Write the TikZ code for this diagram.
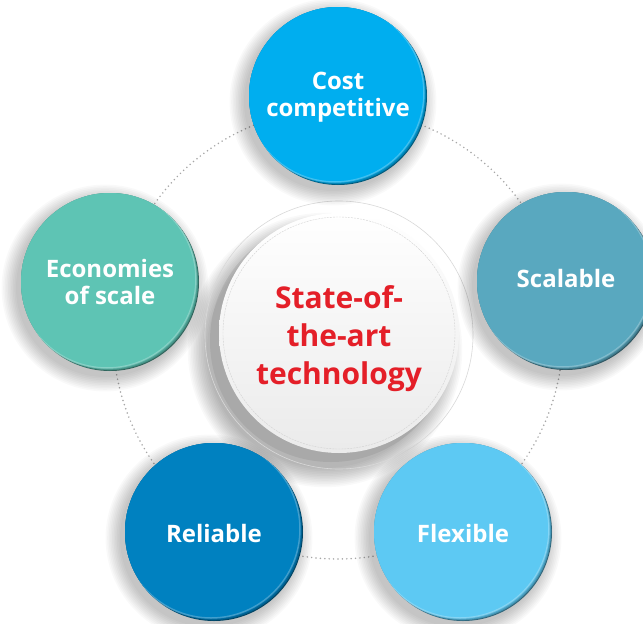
\documentclass[tikz,border=0pt]{standalone}
\usepackage{fontspec}
\setmainfont{Open Sans}
\definecolor{costc}{HTML}{00AEEF}
\definecolor{scalc}{HTML}{59A8BF}
\definecolor{econc}{HTML}{5EC4B4}
\definecolor{relc}{HTML}{0081C0}
\definecolor{flexc}{HTML}{5DC9F3}
\definecolor{redc}{HTML}{E41F28}
\definecolor{dotc}{HTML}{A6A6A6}
\tikzset{
  btxt/.style={text=white, font=\bfseries\fontsize{24}{27}\selectfont, align=center, inner sep=0pt},
  ctxt/.style={text=redc, font=\bfseries\fontsize{30}{38}\selectfont, align=center, inner sep=0pt},
  guide/.style={dotc, line width=1.7pt, line cap=round, dash pattern=on 0pt off 4.4pt},
}
\newcommand\mybubble[6]{%
  \foreach \i in {0,...,9} {\fill[black,opacity=0.022] ({#2-5},{#3+6}) circle[radius={(89+\i*1.6)*1pt}];}
  \fill[#4!50!black] (#2,#3) circle[radius=89pt];
  \begin{scope}
    \clip (#2,#3) circle[radius=89pt];
    \foreach \s in {1,2,3,4} {\fill[#4,opacity=0.4] ({#2-\s*0.7},{#3-\s*0.7}) circle[radius=89pt];}
    \fill[#4] ({#2-3},{#3-3}) circle[radius=89pt];
    \draw[white,opacity=0.25,line width=1.5pt] ({#2-3},{#3-3}) circle[radius=89pt];
  \end{scope}
  \node[btxt] (#1) at (#2,{#3+#6}) {#5};
}
\begin{document}
\begin{tikzpicture}[x=1pt,y=-1pt]
\useasboundingbox (0,0) rectangle (643,624);
\clip (0,0) rectangle (643,624);
\fill[white] (0,0) rectangle (643,624);
\coordinate (O) at (338,334);
\draw[guide] (O) circle[radius=225pt];
% centre disk
\foreach \i in {0,...,12} {\fill[black,opacity=0.022] (325,350) circle[radius={(118+\i*1.6)*1pt}];}
\fill[black,opacity=0.07] (331,341) circle[radius=121pt];
\draw[gray!30, line width=0.6pt] (339,335) circle[radius=134pt];
\shade[top color=white, bottom color=black!8] (339,333) circle[radius=120pt];
\draw[gray!35, line width=0.4pt, dash pattern=on 2pt off 1pt] (339,333) circle[radius=116pt];
\node[ctxt] (c) at (339,339) {State-of-\\the-art\\technology};
% bubbles
\mybubble{cost}{338}{96}{costc}{Cost\\competitive}{1}
\mybubble{econ}{110}{282}{econc}{Economies\\of scale}{0}
\mybubble{scal}{566}{281}{scalc}{Scalable}{-3}
\mybubble{rel}{214}{532}{relc}{Reliable}{1}
\mybubble{flex}{463}{532}{flexc}{Flexible}{1}
\end{tikzpicture}
\end{document}
